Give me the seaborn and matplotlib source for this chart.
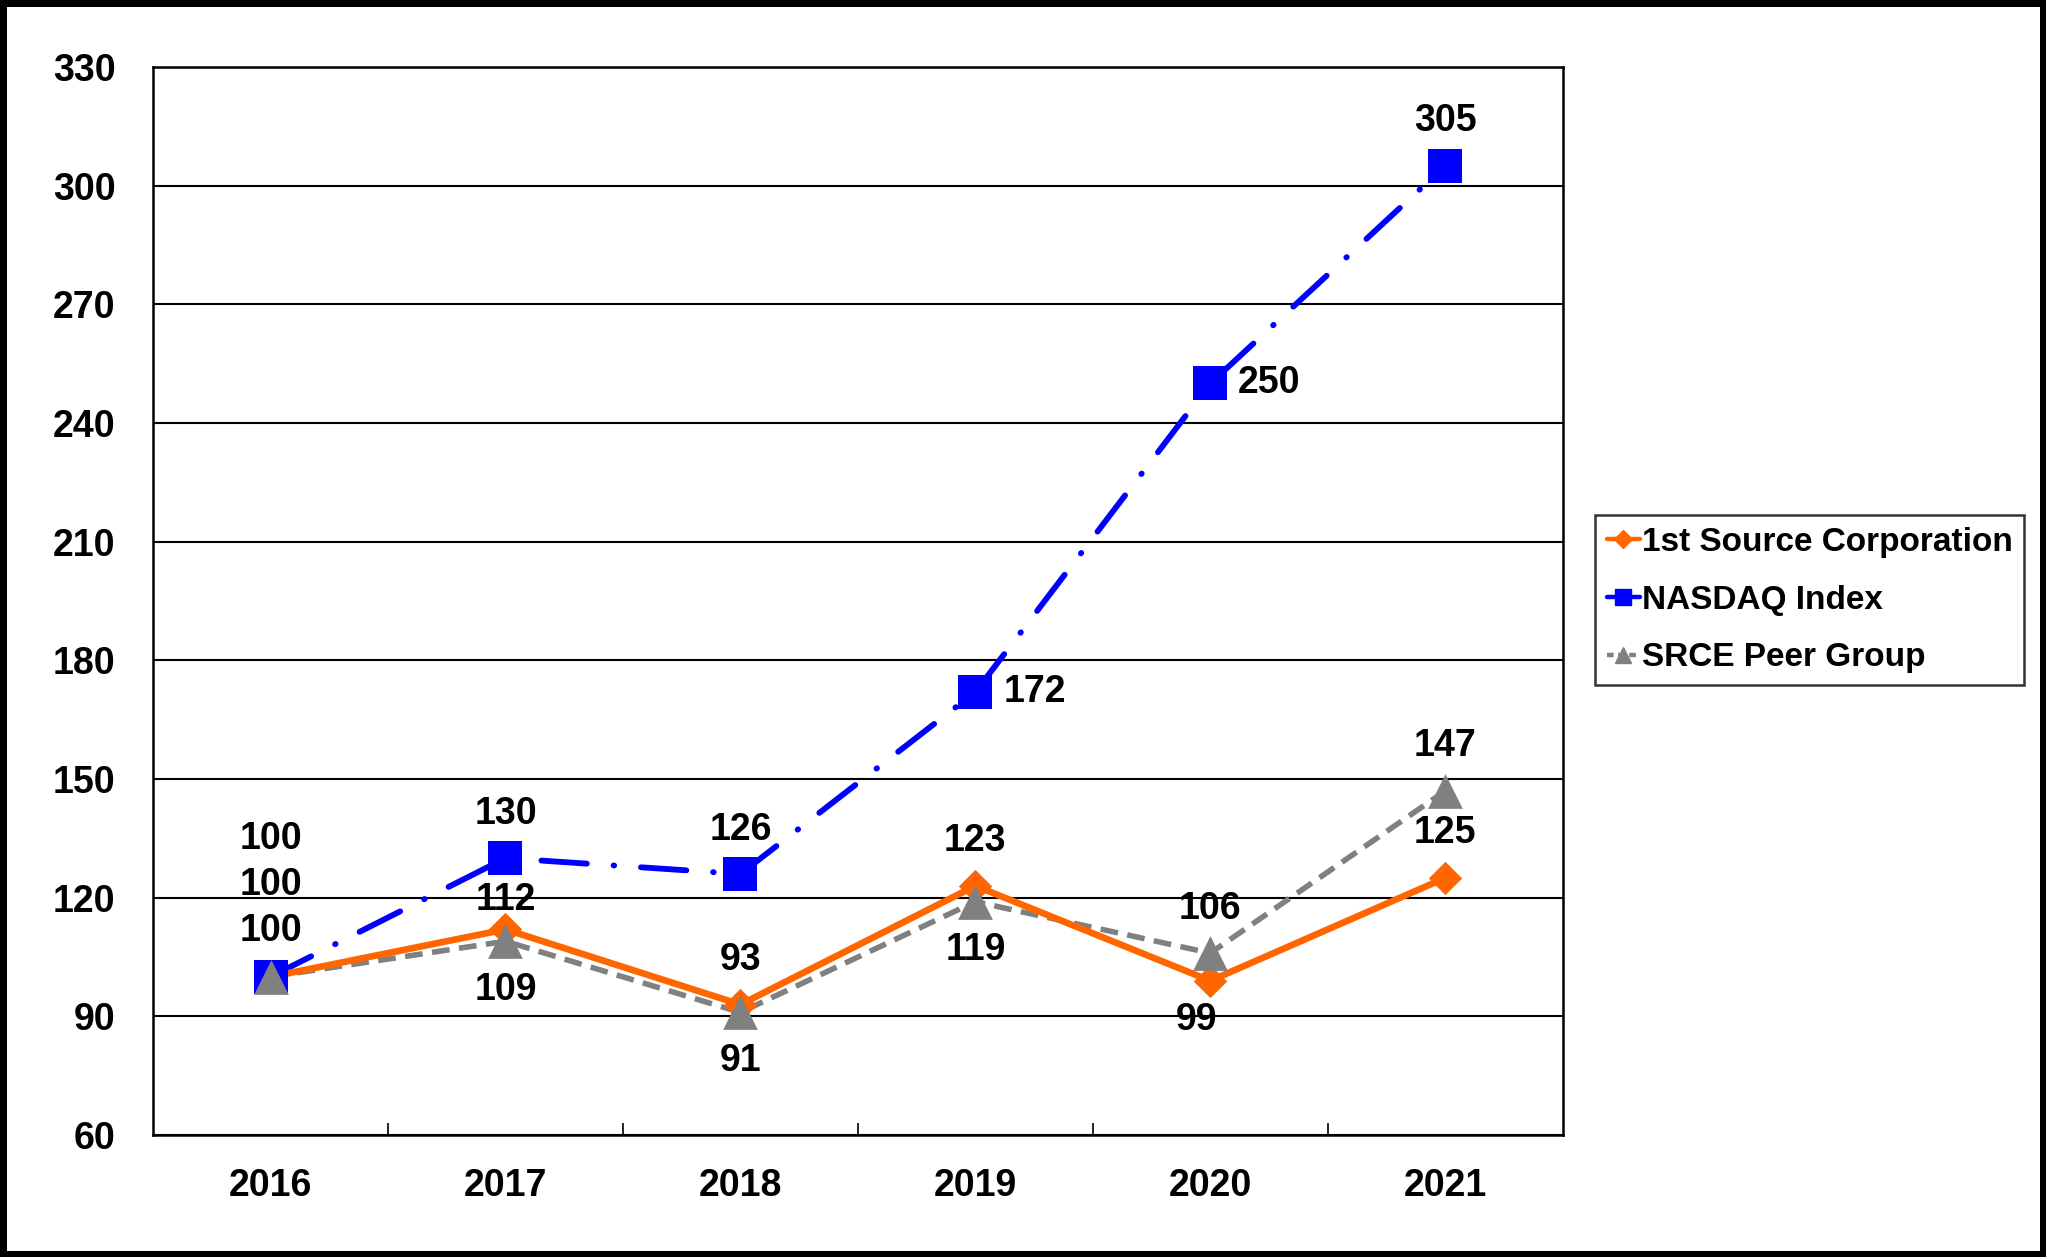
import matplotlib
matplotlib.use('Agg')
import matplotlib.pyplot as plt
from matplotlib.lines import Line2D
import numpy as np
import pandas as pd
import seaborn as sns

years = [2016, 2017, 2018, 2019, 2020, 2021]
first_source = [100, 112, 93, 123, 99, 125]
nasdaq = [100, 130, 126, 172, 250, 305]
peer_group = [100, 109, 91, 119, 106, 147]
series_names = ["1st Source Corporation", "NASDAQ Index", "SRCE Peer Group"]
y_ticks = [60, 90, 120, 150, 180, 210, 240, 270, 300, 330]

# label offsets in points (dx, dy) for each series/year
off_first = [(0, 66), (0, 21), (0, 32), (0, 32), (-10, -28), (0, 32)]
off_nasdaq = [(0, 99), (0, 32), (0, 32), (20, 0), (20, 0), (0, 32)]
off_peer = [(0, 33), (0, -35), (0, -35), (0, -35), (0, 32), (0, 32)]

sns.set_style("white")
plt.rcParams['font.family'] = ['Liberation Sans', 'DejaVu Sans']
plt.rcParams['font.weight'] = 'bold'
plt.rcParams['text.color'] = 'black'
plt.rcParams['xtick.color'] = 'black'
plt.rcParams['ytick.color'] = 'black'
plt.rcParams['axes.labelcolor'] = 'black'

df = pd.DataFrame({"year": years, series_names[0]: first_source,
                   series_names[1]: nasdaq, series_names[2]: peer_group})

fig = plt.figure(figsize=(20.46, 12.57), dpi=100)
ax = fig.add_axes([0.0748, 0.097, 0.689, 0.8497])

orange = "#FF6600"
blue = "#0000FF"
gray = "#808080"

# lines
sns.lineplot(data=df, x="year", y=series_names[1], ax=ax, color=blue, lw=4.2, zorder=3)
ax.lines[-1].set_dashes((7.8, 4.6, 0.1, 4.6))
ax.lines[-1].set_dash_capstyle('round')
sns.lineplot(data=df, x="year", y=series_names[2], ax=ax, color=gray, lw=4.0, zorder=3.2)
ax.lines[-1].set_dashes((3.2, 1.7))
sns.lineplot(data=df, x="year", y=series_names[0], ax=ax, color=orange, lw=4.8, zorder=3.4)

# markers
sns.scatterplot(data=df, x="year", y=series_names[0], ax=ax, color=orange, marker='D',
                s=17 ** 2, linewidth=0, zorder=4)
sns.scatterplot(data=df, x="year", y=series_names[1], ax=ax, color=blue, marker='s',
                s=24 ** 2, linewidth=0, zorder=4.1)
sns.scatterplot(data=df, x="year", y=series_names[2], ax=ax, color=gray, marker='^',
                s=25 ** 2, linewidth=0, zorder=4.2)

# data labels
for vals, offs in [(first_source, off_first), (nasdaq, off_nasdaq), (peer_group, off_peer)]:
    for x, v, (dx, dy) in zip(years, vals, offs):
        ha = 'left' if dx > 0 else 'center'
        ax.annotate(str(v), (x, v), xytext=(dx, dy), textcoords='offset points',
                    ha=ha, va='center', fontsize=27, fontweight='bold', color='black', zorder=6)

ax.set_xlim(years[0] - 0.5, years[-1] + 0.5)
ax.set_ylim(y_ticks[0], y_ticks[-1])
ax.set_yticks(y_ticks)
ax.set_yticklabels([str(t) for t in y_ticks])
ax.set_xticks(years)
ax.set_xticklabels([str(y) for y in years])
ax.set_xticks(np.arange(years[0] + 0.5, years[-1], 1.0), minor=True)
ax.tick_params(axis='x', which='major', length=0, pad=24, labelsize=27, labelcolor='black')
ax.tick_params(axis='x', which='minor', length=9, width=1.2, direction='in', color='black', bottom=True)
ax.tick_params(axis='y', which='major', length=0, pad=27, labelsize=27, labelcolor='black')
for lab in ax.get_xticklabels() + ax.get_yticklabels():
    lab.set_fontweight('bold')
ax.set_xlabel("")
ax.set_ylabel("")

ax.grid(axis='y', color='black', lw=1.5)
ax.set_axisbelow(True)
for sp in ax.spines.values():
    sp.set_color('black')
    sp.set_linewidth(1.8)
    sp.set_visible(True)

handles = [
    Line2D([], [], color=orange, lw=3.2, marker='D', markersize=9),
    Line2D([], [], color=blue, lw=3.2, marker='s', markersize=11),
    Line2D([], [], color=gray, lw=3.2, ls=(0, (1.5, 1)), marker='^', markersize=12),
]
leg = fig.legend(handles, series_names, loc='upper left', bbox_to_anchor=(0.7796, 0.590),
                 bbox_transform=fig.transFigure, fontsize=24, frameon=True, fancybox=False,
                 handlelength=1.0, handletextpad=0.05, labelspacing=0.8, borderpad=0.35,
                 borderaxespad=0)
leg.get_frame().set_edgecolor('black')
leg.get_frame().set_linewidth(1.8)
for t in leg.get_texts():
    t.set_fontweight('bold')
    t.set_color('black')

fig.patch.set_edgecolor('black')
fig.patch.set_linewidth(8)

fig.savefig("out.png", dpi=100, facecolor='white', edgecolor='black')
